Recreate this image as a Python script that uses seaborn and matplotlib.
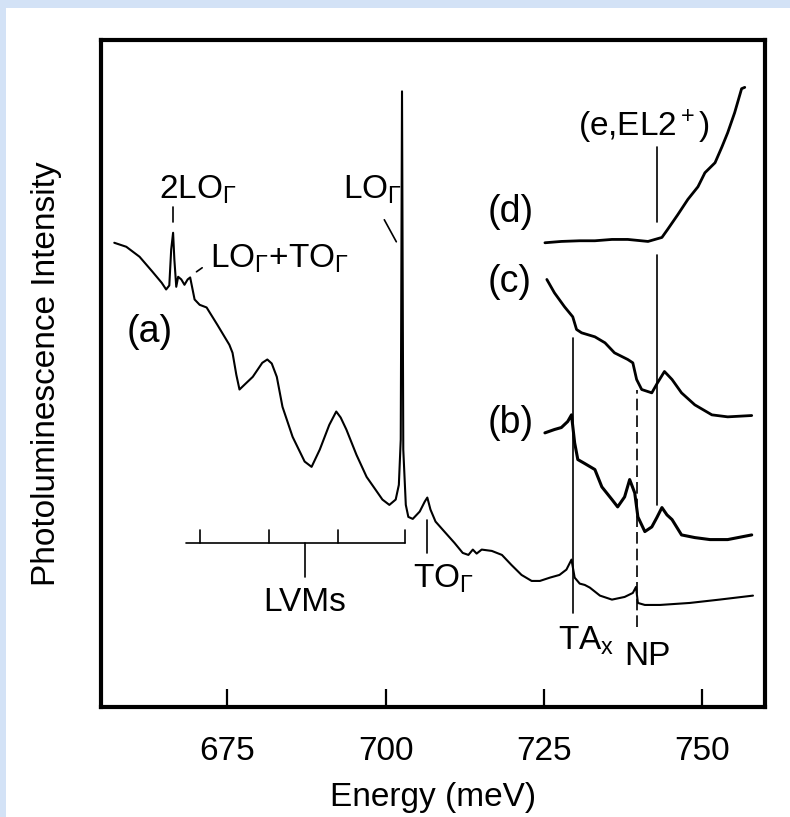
import matplotlib
matplotlib.use("Agg")
import matplotlib.pyplot as plt
from matplotlib.patches import Rectangle
import seaborn as sns
import pandas as pd

# ---- data (energy in meV, intensity in arbitrary units) ----
a_energy = [657.1, 659.0, 661.1, 663.1, 664.6, 665.3, 665.8, 666.1, 666.4, 666.6, 666.9,
            667.2, 667.7, 668.2, 668.7, 669.1, 669.8, 670.6, 671.7, 673.4, 675.3, 675.8,
            676.4, 676.9, 678.0, 679.0, 680.5, 681.3, 682.0, 682.8, 683.7, 685.3, 687.2,
            688.3, 689.6, 691.1, 692.2, 692.9, 693.8, 695.4, 697.0, 698.4, 699.5, 700.6,
            701.6, 702.1, 702.4, 702.6, 702.8, 703.2, 703.6, 704.3, 705.4, 706.2, 706.6,
            707.1, 707.9, 709.3, 710.9, 712.2, 713.1, 713.8, 714.4, 715.2, 716.8, 718.4,
            719.9, 721.5, 723.1, 724.4, 726.0, 727.5, 728.6, 729.4, 729.9, 730.7, 731.5,
            732.3, 733.9, 735.8, 737.8, 739.1, 739.6, 739.9, 741.0, 743.4, 748.1, 752.8,
            758.1]
a_intensity = [69.6, 69.0, 67.5, 65.3, 63.6, 62.6, 63.2, 68.6, 71.1, 67.1, 63.0,
               64.5, 64.1, 63.3, 64.1, 64.4, 61.1, 60.3, 59.9, 57.3, 54.3, 53.1,
               49.8, 47.6, 48.6, 49.5, 51.6, 52.1, 51.5, 49.5, 45.0, 40.5, 36.8,
               36.0, 38.6, 42.3, 44.3, 43.4, 41.6, 37.8, 34.5, 32.6, 31.1, 30.3,
               31.1, 33.3, 40.1, 92.3, 38.6, 30.3, 28.5, 28.2, 29.3, 30.8, 31.4,
               29.6, 27.8, 26.3, 24.6, 23.1, 22.8, 23.6, 23.0, 23.6, 23.4, 22.8,
               21.3, 19.8, 18.9, 18.9, 19.4, 19.8, 20.6, 22.1, 19.4, 18.5, 18.3,
               17.9, 16.7, 16.1, 16.5, 17.1, 18.0, 15.6, 15.3, 15.3, 15.6, 16.1,
               16.7]

b_energy = [725.2, 726.7, 727.8, 728.8, 729.4, 729.9, 730.4, 731.5, 733.1, 734.2, 735.8,
            736.7, 737.8, 738.6, 739.4, 739.9, 741.0, 742.1, 742.9, 743.7, 744.5, 745.3,
            746.8, 748.9, 751.3, 754.1, 757.9]
b_intensity = [41.1, 41.6, 41.9, 42.8, 43.8, 39.6, 37.1, 36.5, 35.6, 33.0, 31.1,
               30.0, 31.5, 34.1, 32.1, 28.5, 26.3, 27.0, 28.4, 29.9, 28.8, 28.1,
               25.8, 25.4, 25.1, 25.1, 25.8]

c_energy = [725.5, 726.7, 728.3, 729.6, 730.2, 731.0, 733.1, 734.7, 736.2, 738.3, 739.1,
            739.7, 740.5, 742.1, 743.0, 744.1, 745.3, 746.8, 748.9, 751.6, 754.1, 757.9]
c_intensity = [64.1, 62.1, 60.0, 58.5, 56.6, 56.1, 55.5, 54.6, 53.1, 52.1, 51.6,
               49.1, 47.6, 47.1, 48.6, 50.3, 49.1, 47.1, 45.3, 43.8, 43.5, 43.7]

d_energy = [725.2, 727.8, 730.7, 733.1, 735.8, 738.3, 741.5, 743.7, 744.6, 746.2, 747.8,
            749.4, 750.5, 752.1, 753.2, 754.1, 755.2, 756.3, 756.8]
d_intensity = [69.6, 69.8, 69.9, 69.9, 70.1, 70.1, 69.8, 70.4, 71.6, 73.8, 76.1,
               78.0, 80.1, 81.6, 84.0, 86.1, 89.1, 92.7, 92.9]

x_ticks = [675, 700, 725, 750]
x_limits = (655, 760)
y_limits = (0, 100)
lvm_positions = [670.7, 681.5, 692.4, 703.0]
lvm_center = 687.2

# ---- style ----
sns.set_style("white")
plt.rcParams["font.family"] = ["Liberation Sans", "DejaVu Sans"]
plt.rcParams["mathtext.fontset"] = "custom"
plt.rcParams["mathtext.rm"] = "Liberation Sans"
plt.rcParams["mathtext.it"] = "Liberation Sans:italic"
plt.rcParams["mathtext.bf"] = "Liberation Sans:bold"
plt.rcParams["text.color"] = "black"
plt.rcParams["axes.labelcolor"] = "black"
plt.rcParams["xtick.color"] = "black"
plt.rcParams["ytick.color"] = "black"

fig = plt.figure(figsize=(7.9, 8.17), dpi=100)
fig.patch.set_facecolor("white")
band = "#d3e2f6"
fig.patches.append(Rectangle((0, 1 - 8 / 817), 1, 8 / 817, transform=fig.transFigure,
                             facecolor=band, edgecolor="none", zorder=-10))
fig.patches.append(Rectangle((0, 0), 6 / 790, 1, transform=fig.transFigure,
                             facecolor=band, edgecolor="none", zorder=-10))

ax = fig.add_axes([101 / 790, 1 - 707 / 817, (765 - 101) / 790, (707 - 40) / 817])

curves = [
    (a_energy, a_intensity, 1.5),
    (b_energy, b_intensity, 2.2),
    (c_energy, c_intensity, 2.0),
    (d_energy, d_intensity, 2.0),
]
for xs, ys, lw in curves:
    df = pd.DataFrame({"E": xs, "I": ys})
    sns.lineplot(data=df, x="E", y="I", ax=ax, color="black", lw=lw,
                 estimator=None, sort=False, legend=False)

ax.set_xlim(*x_limits)
ax.set_ylim(*y_limits)
ax.set_xticks(x_ticks)
ax.set_xticklabels([str(t) for t in x_ticks])
ax.set_yticks([])
ax.tick_params(axis="x", direction="in", length=13, width=1.6, pad=21,
               labelsize=24, bottom=True, top=False)
for s in ax.spines.values():
    s.set_linewidth(3.0)
    s.set_color("black")
ax.set_xlabel("Energy (meV)", fontsize=24, labelpad=11)
ax.set_ylabel("Photoluminescence Intensity", fontsize=24, labelpad=28)

mk = dict(color="black", lw=1.2)
fs = 24

# 2LO
ax.plot([666.4, 666.4], [72.75, 75.0], **mk)
ax.text(664.2, 76.2, r"2LO$_\Gamma$", fontsize=fs, ha="left", va="baseline")
# LO+TO
ax.plot([670.1, 671.0], [65.25, 65.85], **mk)
ax.text(672.2, 65.9, r"LO$_\Gamma$+TO$_\Gamma$", fontsize=fs, ha="left", va="baseline")
# LO
ax.plot([699.8, 701.7], [73.05, 69.75], **mk)
ax.text(693.2, 76.2, r"LO$_\Gamma$", fontsize=fs, ha="left", va="baseline")
# LVM scale
ax.plot([668.4, lvm_positions[-1]], [24.6, 24.6], **mk)
for p in lvm_positions:
    ax.plot([p, p], [24.6, 26.6], **mk)
ax.plot([lvm_center, lvm_center], [19.5, 24.6], **mk)
ax.text(lvm_center, 15.6, "LVMs", fontsize=fs, ha="center", va="center")
# TO
ax.plot([706.6, 706.6], [23.1, 28.05], **mk)
ax.text(704.3, 17.85, r"TO$_\Gamma$", fontsize=fs, ha="left", va="baseline")
# TA_x
ax.plot([729.6, 729.6], [14.1, 55.35], **mk)
ax.text(727.2, 8.55, r"TA$_\mathrm{x}$", fontsize=fs, ha="left", va="baseline")
# NP
ax.plot([739.7, 739.7], [12.0, 47.55], color="black", lw=1.2, ls=(0, (7, 3)))
ax.text(737.8, 6.3, "NP", fontsize=fs, ha="left", va="baseline")
# EL2
ax.plot([742.9, 742.9], [72.75, 84.0], **mk)
ax.plot([742.9, 742.9], [30.3, 67.8], **mk)
ax.text(730.4, 85.5, r"(e,EL2$^+$)", fontsize=fs, ha="left", va="baseline")

# curve labels
for lab, yy in [("(a)", 56.25), ("(b)", 42.6), ("(c)", 63.75), ("(d)", 74.25)]:
    xx = 659.0 if lab == "(a)" else 716.1
    ax.text(xx, yy, lab, fontsize=27, ha="left", va="center")

fig.savefig("out.png", dpi=100, facecolor="white")
